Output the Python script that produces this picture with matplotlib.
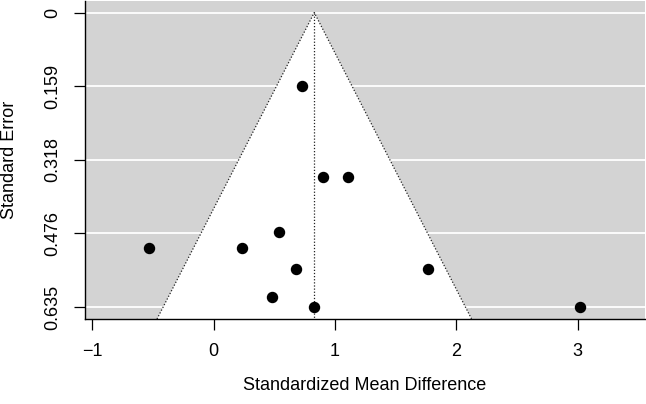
import matplotlib
matplotlib.use("Agg")
import matplotlib.pyplot as plt
import numpy as np

plt.rcParams['font.family'] = ['Liberation Sans', 'DejaVu Sans']

# Data (standardized mean difference, standard error)
smd = [0.731, 0.905, 1.111, 0.540, -0.531, 0.238, 0.677, 1.764, 0.485, 0.828, 3.019]
se = [0.159, 0.355, 0.355, 0.473, 0.508, 0.508, 0.553, 0.553, 0.614, 0.635, 0.635]
estimate = 0.83
y_ticks = [0, 0.15875, 0.3175, 0.47625, 0.635]
y_ticklabels = ["0", "0.159", "0.318", "0.476", "0.635"]
x_ticks = [-1, 0, 1, 2, 3]
x_ticklabels = ["\u22121", "0", "1", "2", "3"]

W, H = 646, 404
fig = plt.figure(figsize=(W / 100, H / 100), dpi=100)
L, R, T, B = 85, 645, 1, 319
ax = fig.add_axes([L / W, 1 - B / H, (R - L) / W, (B - T) / H])

ymax = 0.661
ymin = -0.025
ax.set_xlim(-1.0585, 3.554)
ax.set_ylim(ymax, ymin)

ax.set_facecolor('#d3d3d3')
for yt in y_ticks:
    ax.axhline(yt, color='white', lw=1.3, zorder=1)

# funnel
half = 1.96 * ymax
ax.fill([estimate - half, estimate, estimate + half], [ymax, 0, ymax],
        facecolor='white', edgecolor='none', zorder=2)
ax.plot([estimate - half, estimate, estimate + half], [ymax, 0, ymax],
        color='#222222', lw=0.9, linestyle=(0, (1, 1.5)), zorder=3)
ax.plot([estimate, estimate], [0, ymax], color='#222222', lw=0.9,
        linestyle=(0, (1, 1.5)), zorder=3)

ax.scatter(smd, se, s=52, color='black', zorder=4, clip_on=False)

for s in ['top', 'right']:
    ax.spines[s].set_visible(False)
for s in ['left', 'bottom']:
    ax.spines[s].set_linewidth(1.0)

ax.set_yticks(y_ticks)
ax.set_yticklabels(y_ticklabels, rotation=90, va='center')
ax.set_xticks(x_ticks)
ax.set_xticklabels(x_ticklabels)
ax.tick_params(axis='both', direction='out', length=8, width=0.9, pad=9,
               labelsize=13, colors='black')

fig.text((L + R) / 2 / W, 1 - 385 / H, "Standardized Mean Difference",
         ha='center', va='center', fontsize=13)
fig.text(10 / W, 1 - 160 / H, "Standard Error", ha='center', va='center',
         rotation=90, fontsize=13)

fig.savefig("out.png", dpi=100)
